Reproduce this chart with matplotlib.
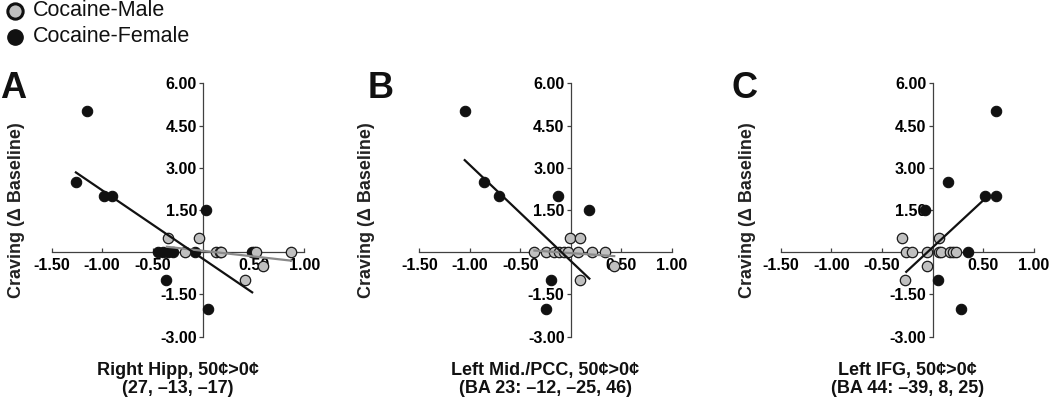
import numpy as np
import matplotlib
matplotlib.use("Agg")
import matplotlib.pyplot as plt
from matplotlib.lines import Line2D

plt.rcParams['font.family'] = ['Liberation Sans', 'DejaVu Sans']
plt.rcParams['axes.unicode_minus'] = False

# ---- data ----
# panel A: Right Hipp
a_male_x = [-0.35, -0.04, -0.18, 0.13, 0.165, 0.18, 0.52, 0.87, 0.59, 0.41]
a_male_y = [0.5, 0.5, 0.0, 0.0, 0.0, 0.0, 0.0, 0.0, -0.5, -1.0]
a_female_x = [-1.15, -1.26, -0.98, -0.90, 0.03, -0.45, -0.40, -0.35, -0.30,
              -0.08, -0.37, 0.05, 0.48, 0.50]
a_female_y = [5.0, 2.5, 2.0, 2.0, 1.5, 0.0, 0.0, 0.0, 0.0,
              0.0, -1.0, -2.0, 0.0, 0.0]

# panel B: Left Mid./PCC
b_male_x = [-0.36, -0.25, -0.17, -0.115, -0.07, -0.03, 0.07, 0.21, 0.34,
            -0.01, 0.09, 0.09, 0.43]
b_male_y = [0.0, 0.0, 0.0, 0.0, 0.0, 0.0, 0.0, 0.0, 0.0,
            0.5, 0.5, -1.0, -0.5]
b_female_x = [-1.05, -0.86, -0.71, -0.13, 0.18, -0.20, -0.25]
b_female_y = [5.0, 2.5, 2.0, 2.0, 1.5, -1.0, -2.0]

# panel C: Left IFG
c_male_x = [-0.30, 0.06, -0.26, -0.20, -0.05, 0.06, 0.08, 0.17, 0.20, 0.23,
            -0.05, -0.27]
c_male_y = [0.5, 0.5, 0.0, 0.0, 0.0, 0.0, 0.0, 0.0, 0.0, 0.0,
            -0.5, -1.0]
c_female_x = [0.625, 0.155, 0.516, 0.625, -0.072, 0.355, 0.056, 0.28]
c_female_y = [5.0, 2.5, 2.0, 2.0, 1.5, 0.0, -1.0, -2.0]

# regression lines as printed: (slope, intercept, x start, x end)
a_female_fit = (-2.44, -0.24, -1.26, 0.485)
a_male_fit = (-0.40, 0.05, -0.36, 0.87)
b_female_fit = (-3.41, -0.31, -1.05, 0.184)
b_male_fit = (-0.25, -0.03, -0.36, 0.43)
c_female_fit = (3.33, 0.17, -0.26, 0.52)

x_ticks = [-1.5, -1.0, -0.5, 0.5, 1.0]
y_ticks = [-3.0, -1.5, 1.5, 3.0, 4.5, 6.0]

panel_letters = ["A", "B", "C"]
titles = ["Right Hipp, 50\u00a2>0\u00a2\n(27, \u201313, \u201317)",
          "Left Mid./PCC, 50\u00a2>0\u00a2\n(BA 23: \u201312, \u201325, 46)",
          "Left IFG, 50\u00a2>0\u00a2\n(BA 44: \u201339, 8, 25)"]
legend_labels = ["Cocaine-Male", "Cocaine-Female"]

MALE_C = "#c0c0c0"
FEMALE_C = "#111111"
AXIS_C = "#404040"

W, H = 1050, 401
fig = plt.figure(figsize=(10.5, 4.01), dpi=100)

lefts = [0.0492, 0.3993, 0.7438]
ylab_off = [-0.141, -0.208, -0.132]
letter_x = [0.0, 0.350, 0.697]

panels = [
    (a_male_x, a_male_y, a_female_x, a_female_y, [a_female_fit], [a_male_fit]),
    (b_male_x, b_male_y, b_female_x, b_female_y, [b_female_fit], [b_male_fit]),
    (c_male_x, c_male_y, c_female_x, c_female_y, [c_female_fit], []),
]

for i, (mx, my, fx, fy, ffits, mfits) in enumerate(panels):
    ax = fig.add_axes([lefts[i], 0.1603, 0.2405, 0.632])
    ax.set_xlim(-1.5, 1.0)
    ax.set_ylim(-3.0, 6.0)
    ax.patch.set_visible(False)

    for s in ["top", "right"]:
        ax.spines[s].set_visible(False)
    ax.spines["left"].set_position(("data", 0))
    ax.spines["bottom"].set_position(("data", 0))
    for s in ["left", "bottom"]:
        ax.spines[s].set_color(AXIS_C)
        ax.spines[s].set_linewidth(0.9)

    ax.set_xticks(x_ticks)
    ax.set_xticklabels(["%.2f" % v for v in x_ticks])
    ax.set_yticks(y_ticks)
    ax.set_yticklabels(["%.2f" % v for v in y_ticks])
    ax.tick_params(axis="x", direction="in", length=3, width=0.9, color=AXIS_C,
                   pad=4.5, labelsize=11.5)
    ax.tick_params(axis="y", direction="out", length=3, width=0.9, color=AXIS_C,
                   pad=1.5, labelsize=11.5)
    for lab in ax.get_xticklabels() + ax.get_yticklabels():
        lab.set_fontweight("bold")

    ax.scatter(fx, fy, s=56, facecolor=FEMALE_C, edgecolor=FEMALE_C,
               linewidth=0.8, zorder=4, clip_on=False)
    ax.scatter(mx, my, s=56, facecolor=MALE_C, edgecolor="#1a1a1a",
               linewidth=0.9, zorder=5, clip_on=False)

    for slope, icpt, x0, x1 in mfits:
        xs = np.array([x0, x1])
        ax.plot(xs, slope * xs + icpt, color="#8a8a8a", lw=1.6, zorder=6)
    for slope, icpt, x0, x1 in ffits:
        xs = np.array([x0, x1])
        ax.plot(xs, slope * xs + icpt, color="#111111", lw=1.6, zorder=7)

    ax.text(ylab_off[i], 0.5, "Craving (\u0394 Baseline)", transform=ax.transAxes,
            rotation=90, ha="center", va="center", fontsize=13,
            fontweight="bold", color="#222222")

    fig.text(letter_x[i], 0.822, panel_letters[i], fontsize=26,
             fontweight="bold", ha="left", va="top", color="#111111")

    fig.text(lefts[i] + 0.2405 / 2, 0.097, titles[i], ha="center", va="top",
             fontsize=13, fontweight="bold", linespacing=1.05,
             color="#111111")

# legend drawn by hand in figure pixels
leg_y = [11, 37]
leg_face = [MALE_C, FEMALE_C]
leg_edge_w = [2.2, 1.0]
for lab, yy, fc, ew in zip(legend_labels, leg_y, leg_face, leg_edge_w):
    fy = 1 - yy / H
    fig.add_artist(Line2D([15 / W], [fy], transform=fig.transFigure,
                          marker="o", ls="none", markersize=11,
                          markerfacecolor=fc, markeredgecolor="#111111",
                          markeredgewidth=ew))
    fig.text(33 / W, fy, lab, ha="left", va="center", fontsize=15.5,
             color="#111111")

fig.savefig("out.png", dpi=100)
